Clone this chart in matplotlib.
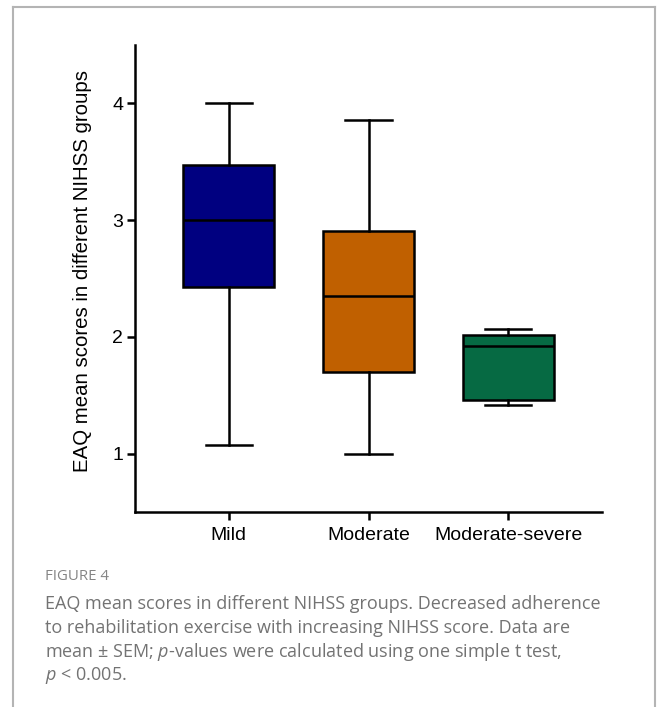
import matplotlib
matplotlib.use('Agg')
import matplotlib.pyplot as plt
from matplotlib.lines import Line2D

# groups and box statistics
groups = ['Mild', 'Moderate', 'Moderate-severe']
whis_low = [1.07, 1.00, 1.42]
q1 = [2.43, 1.70, 1.46]
median = [3.00, 2.35, 1.92]
q3 = [3.47, 2.91, 2.02]
whis_high = [4.00, 3.86, 2.07]
colors = ['#000080', '#C06000', '#066A43']

caption_title = 'FIGURE 4'
caption_lines = [
    'EAQ mean scores in different NIHSS groups. Decreased adherence',
    'to rehabilitation exercise with increasing NIHSS score. Data are',
    'mean \u00b1 SEM; $p$-values were calculated using one simple t test,',
    '$p$ < 0.005.',
]

plt.rcParams['font.family'] = 'Liberation Sans'
plt.rcParams['mathtext.fontset'] = 'custom'
plt.rcParams['mathtext.rm'] = 'Open Sans'
plt.rcParams['mathtext.it'] = 'Open Sans:italic'

fig = plt.figure(figsize=(6.58, 7.07), dpi=100)
ax = fig.add_axes([135 / 658, 1 - 512 / 707, 467 / 658, 467 / 707])

stats = []
for i, g in enumerate(groups):
    stats.append({'label': g, 'whislo': whis_low[i], 'q1': q1[i], 'med': median[i],
                  'q3': q3[i], 'whishi': whis_high[i], 'fliers': []})

lw = 1.8
bp = ax.bxp(stats, positions=[1, 2, 3], widths=0.65, capwidths=0.33, patch_artist=True,
            showfliers=False,
            boxprops=dict(linewidth=lw, edgecolor='black'),
            medianprops=dict(linewidth=lw, color='black'),
            whiskerprops=dict(linewidth=lw, color='black'),
            capprops=dict(linewidth=lw, color='black'))
for patch, c in zip(bp['boxes'], colors):
    patch.set_facecolor(c)

ax.set_xlim(0.33, 3.67)
ax.set_ylim(0.5, 4.5)
ax.set_yticks([1, 2, 3, 4])
ax.set_xticks([1, 2, 3])
ax.set_xticklabels(groups)
for s in ['top', 'right']:
    ax.spines[s].set_visible(False)
for s in ['left', 'bottom']:
    ax.spines[s].set_linewidth(1.8)
ax.tick_params(axis='both', labelsize=14, length=5.5, width=1.8, direction='out')
ax.tick_params(axis='x', pad=5)
ax.tick_params(axis='y', pad=3)
ax.set_ylabel('EAQ mean scores in different NIHSS groups', fontsize=14.7)
ax.yaxis.set_label_coords(-0.092, 0.516)

# frame around the figure panel
fc = '#b4b4b4'
fig.add_artist(Line2D([13 / 658, 13 / 658], [0, 1 - 7 / 707], transform=fig.transFigure, color=fc, lw=1.5))
fig.add_artist(Line2D([13 / 658, 655 / 658], [1 - 7 / 707, 1 - 7 / 707], transform=fig.transFigure, color=fc, lw=1.5))
fig.add_artist(Line2D([655 / 658, 655 / 658], [0, 1 - 7 / 707], transform=fig.transFigure, color=fc, lw=1.5))

# caption
fig.text(45 / 658, 1 - 576 / 707, caption_title, fontsize=10.8, color='#858585',
         family='Open Sans', va='center')
for k, line in enumerate(caption_lines):
    fig.text(45 / 658, 1 - (604 + 24 * k) / 707, line, fontsize=13, color='#737373',
             family='Open Sans', va='center')

fig.savefig('out.png', dpi=100)
